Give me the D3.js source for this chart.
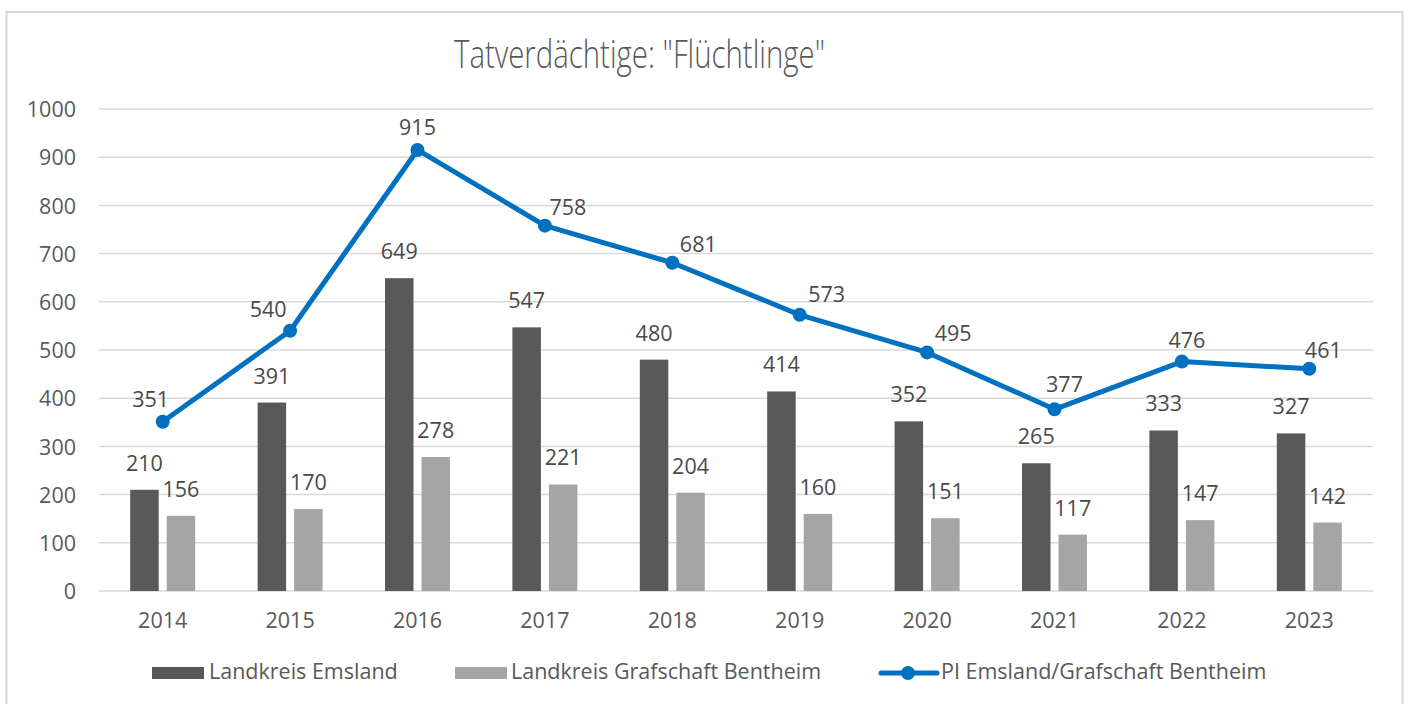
<!DOCTYPE html>
<html>
<head>
<meta charset="utf-8">
<script src="https://cdn.jsdelivr.net/npm/d3@7"></script>
<style>
  html, body { margin: 0; padding: 0; background: #fff; }
  svg { display: block; font-family: "Open Sans", "Noto Sans", sans-serif; }
</style>
</head>
<body>
<svg id="chart" width="1408" height="704"></svg>
<script>
// chart data
var years = ["2014", "2015", "2016", "2017", "2018", "2019", "2020", "2021", "2022", "2023"];
var emsland = [210, 391, 649, 547, 480, 414, 352, 265, 333, 327];
var bentheim = [156, 170, 278, 221, 204, 160, 151, 117, 147, 142];
var gesamt = [351, 540, 915, 758, 681, 573, 495, 377, 476, 461];
var yTicks = [0, 100, 200, 300, 400, 500, 600, 700, 800, 900, 1000];
var seriesNames = ["Landkreis Emsland", "Landkreis Grafschaft Bentheim", "PI Emsland/Grafschaft Bentheim"];
var title = 'Tatverdächtige: "Flüchtlinge"';

// label nudges for the line labels (like the manual moves in the original)
var lineLabelDx = [-12, -22, 0, 23, 26, 27, 26, 10, 5, 14];
var lineLabelDy = [15, 14, 15, 11, 11, 13, 11, 17, 14, 11];

var darkGrey = "#595959", lightGrey = "#a5a5a5", blue = "#0070c0",
    gridCol = "#d9d9d9", textCol = "#595959", labelCol = "#4a4a4a";
var fs = 21.5;

var svg = d3.select("#chart");

// outer frame
svg.append("rect")
    .attr("x", 6.5).attr("y", 12).attr("width", 1396).attr("height", 700)
    .attr("fill", "none").attr("stroke", gridCol).attr("stroke-width", 2);

// title
svg.append("text")
    .attr("x", 639.5).attr("y", 68)
    .attr("text-anchor", "middle")
    .attr("font-size", 38).attr("font-weight", 300)
    .attr("fill", textCol)
    .attr("textLength", 371).attr("lengthAdjust", "spacingAndGlyphs")
    .text(title);

var x = d3.scaleBand().domain(years).range([99, 1373]);
var y = d3.scaleLinear().domain([0, 1000]).range([591, 109]);

var barW = 28.5, barGap = 8;

// gridlines
svg.append("g").selectAll("line").data(yTicks).join("line")
    .attr("x1", 99).attr("x2", 1373)
    .attr("y1", function(d){ return y(d); }).attr("y2", function(d){ return y(d); })
    .attr("stroke", gridCol).attr("stroke-width", 1.5);

// y axis labels
var yAxis = d3.axisLeft(y).tickValues(yTicks).tickFormat(d3.format("d")).tickSize(0).tickPadding(0);
var gy = svg.append("g").attr("transform", "translate(76,0)").call(yAxis);
gy.select(".domain").remove();
gy.selectAll("text")
    .attr("font-size", fs).attr("fill", textCol)
    .attr("font-family", "Open Sans").attr("dy", "0.36em");

// x axis labels
var xAxis = d3.axisBottom(x).tickSize(0).tickPadding(0);
var gx = svg.append("g").attr("transform", "translate(0,628)").call(xAxis);
gx.select(".domain").remove();
gx.selectAll("text")
    .attr("font-size", fs).attr("fill", textCol)
    .attr("font-family", "Open Sans").attr("dy", 0);

// bars
function barX(i, k) {
    var c = x(years[i]) + x.bandwidth() / 2;
    return k == 0 ? c - barGap / 2 - barW : c + barGap / 2;
}
[emsland, bentheim].forEach(function(vals, k) {
    var g = svg.append("g");
    g.selectAll("rect").data(vals).join("rect")
        .attr("x", function(d, i){ return barX(i, k); })
        .attr("y", function(d){ return y(d); })
        .attr("width", barW)
        .attr("height", function(d){ return y(0) - y(d); })
        .attr("fill", k == 0 ? darkGrey : lightGrey);
    g.selectAll("text").data(vals).join("text")
        .attr("x", function(d, i){ return barX(i, k) + barW / 2; })
        .attr("y", function(d){ return y(d) - 19; })
        .attr("text-anchor", "middle")
        .attr("font-size", fs).attr("fill", labelCol)
        .text(function(d){ return d; });
});

// line series
var cx = function(d, i){ return x(years[i]) + x.bandwidth() / 2; };
var line = d3.line().x(cx).y(function(d){ return y(d); });
svg.append("path").datum(gesamt)
    .attr("d", line)
    .attr("fill", "none").attr("stroke", blue)
    .attr("stroke-width", 5).attr("stroke-linejoin", "round");
svg.append("g").selectAll("circle").data(gesamt).join("circle")
    .attr("cx", cx).attr("cy", function(d){ return y(d); })
    .attr("r", 7).attr("fill", blue);
svg.append("g").selectAll("text").data(gesamt).join("text")
    .attr("x", function(d, i){ return cx(d, i) + lineLabelDx[i]; })
    .attr("y", function(d, i){ return y(d) - lineLabelDy[i]; })
    .attr("text-anchor", "middle")
    .attr("font-size", fs).attr("fill", labelCol)
    .text(function(d){ return d; });

// legend
var leg = svg.append("g").attr("font-size", fs).attr("fill", textCol);
leg.append("rect").attr("x", 152).attr("y", 667).attr("width", 52).attr("height", 12).attr("fill", darkGrey);
leg.append("text").attr("x", 209).attr("y", 679).text(seriesNames[0]);
leg.append("rect").attr("x", 455).attr("y", 667).attr("width", 52).attr("height", 12).attr("fill", lightGrey);
leg.append("text").attr("x", 511).attr("y", 679).text(seriesNames[1]);
leg.append("line").attr("x1", 881).attr("x2", 937).attr("y1", 673).attr("y2", 673)
    .attr("stroke", blue).attr("stroke-width", 5).attr("stroke-linecap", "round");
leg.append("circle").attr("cx", 908).attr("cy", 673).attr("r", 7).attr("fill", blue);
leg.append("text").attr("x", 941).attr("y", 679).text(seriesNames[2]);
</script>
</body>
</html>
